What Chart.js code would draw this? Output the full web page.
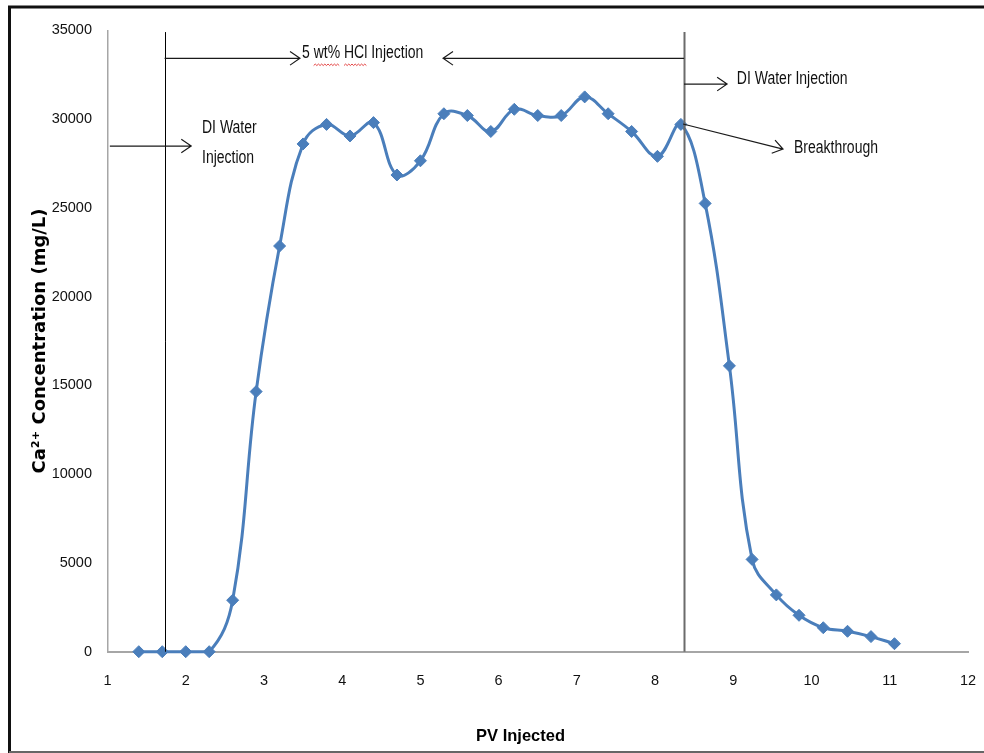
<!DOCTYPE html>
<html>
<head>
<meta charset="utf-8">
<script src="https://cdn.jsdelivr.net/npm/chart.js@4/dist/chart.umd.min.js"></script>
<style>
  html, body { margin: 0; padding: 0; background: #fff; }
  #wrap { width: 984px; height: 753px; }
</style>
</head>
<body>
<div id="wrap"><canvas id="chart" width="984" height="753"></canvas></div>
<script>
// ── Data ───────────────────────────────────────────────────────────────────
const pvInjected = [1.4, 1.7, 2.0, 2.3, 2.6, 2.9, 3.2, 3.5, 3.8, 4.1, 4.4, 4.7, 5.0, 5.3, 5.6, 5.9,
                    6.2, 6.5, 6.8, 7.1, 7.4, 7.7, 8.03, 8.33, 8.64, 8.95, 9.24, 9.55, 9.84, 10.15,
                    10.46, 10.76, 11.06];
const caConc = [0, 0, 0, 0, 2900, 14650, 22850, 28600, 29700, 29050, 29800, 26850, 27650, 30300,
                30200, 29300, 30550, 30200, 30200, 31250, 30300, 29300, 27900, 29700, 25250, 16100,
                5200, 3200, 2050, 1350, 1150, 850, 450];
const xTickValues = [1, 2, 3, 4, 5, 6, 7, 8, 9, 10, 11, 12];
const yTickValues = [0, 5000, 10000, 15000, 20000, 25000, 30000, 35000];

// ── Annotations (in PV / mg/L units) ──────────────────────────────────────
const phaseBoundaries = [1.73, 8.37];
const arrowNotes = [
  { from: [1.73, 33420], to: [3.46, 33420] },
  { from: [8.37, 33420], to: [5.29, 33420] },
  { from: [8.37, 31970], to: [8.92, 31970] },
  { from: [1.03, 28480], to: [2.07, 28480] },
  { from: [8.357, 29720], to: [9.635, 28310] },
];
const textNotes = [
  { text: '5 wt% HCl Injection', x: 3.486, y: 33690, squiggle: ['wt%', 'HCl'] },
  { text: 'DI Water Injection', x: 9.045, y: 32240 },
  { text: 'DI Water', x: 2.208, y: 29480 },
  { text: 'Injection', x: 2.208, y: 27790 },
  { text: 'Breakthrough', x: 9.775, y: 28370 },
];
const xTitle = { text: 'PV Injected', x: 6.28 };

const FONT = "'Liberation Sans', Arial, sans-serif";

// ── Helpers ───────────────────────────────────────────────────────────────
function drawArrow(ctx, x1, y1, x2, y2) {
  const ang = Math.atan2(y2 - y1, x2 - x1), len = 12, spread = 0.6;
  ctx.beginPath();
  ctx.moveTo(x1, y1);
  ctx.lineTo(x2, y2);
  ctx.moveTo(x2 - len * Math.cos(ang - spread), y2 - len * Math.sin(ang - spread));
  ctx.lineTo(x2, y2);
  ctx.lineTo(x2 - len * Math.cos(ang + spread), y2 - len * Math.sin(ang + spread));
  ctx.stroke();
}

function drawSquiggle(ctx, x1, x2, y) {
  ctx.beginPath();
  ctx.moveTo(x1, y);
  let up = true;
  for (let x = x1 + 2; x <= x2; x += 2) {
    ctx.lineTo(x, up ? y - 1.5 : y);
    up = !up;
  }
  ctx.stroke();
}

const notesPlugin = {
  id: 'notes',
  afterDatasetsDraw(chart) {
    const { ctx, scales: { x, y } } = chart;
    ctx.save();

    // phase boundaries
    phaseBoundaries.forEach((pv, i) => {
      const px = Math.round(x.getPixelForValue(pv)) + 0.5;
      ctx.strokeStyle = i === 0 ? '#000' : '#6b6b6b';
      ctx.lineWidth = i === 0 ? 1 : 2;
      ctx.beginPath();
      ctx.moveTo(px, y.getPixelForValue(34900));
      ctx.lineTo(px, y.getPixelForValue(0));
      ctx.stroke();
    });

    // arrows
    ctx.strokeStyle = '#1a1a1a';
    ctx.lineWidth = 1.2;
    arrowNotes.forEach(a => {
      drawArrow(ctx,
        x.getPixelForValue(a.from[0]), y.getPixelForValue(a.from[1]),
        x.getPixelForValue(a.to[0]), y.getPixelForValue(a.to[1]));
    });

    // labels (narrow face: squeeze horizontally)
    ctx.font = '17.5px ' + FONT;
    ctx.fillStyle = '#111';
    ctx.textAlign = 'left';
    ctx.textBaseline = 'middle';
    textNotes.forEach(t => {
      ctx.save();
      ctx.translate(x.getPixelForValue(t.x), y.getPixelForValue(t.y));
      ctx.scale(0.8, 1);
      ctx.fillText(t.text, 0, 0);
      (t.squiggle || []).forEach(word => {
        const idx = t.text.indexOf(word);
        const x1 = ctx.measureText(t.text.slice(0, idx)).width;
        const x2 = x1 + ctx.measureText(word).width;
        ctx.strokeStyle = '#e03030';
        ctx.lineWidth = 1;
        drawSquiggle(ctx, x1, x2, 12);
      });
      ctx.restore();
    });

    // x axis title (sits a little left of centre in the original)
    ctx.font = 'bold 16.5px ' + FONT;
    ctx.fillStyle = '#000';
    ctx.textAlign = 'center';
    ctx.fillText(xTitle.text, x.getPixelForValue(xTitle.x), 736);
    ctx.restore();
  },
  afterDraw(chart) {
    const { ctx } = chart;
    ctx.save();
    ctx.strokeStyle = '#111';
    ctx.lineWidth = 3;
    ctx.beginPath();
    ctx.moveTo(9.5, 753);
    ctx.lineTo(9.5, 7);
    ctx.lineTo(984, 7);
    ctx.stroke();
    ctx.strokeStyle = '#666';
    ctx.lineWidth = 2;
    ctx.beginPath();
    ctx.moveTo(9, 752);
    ctx.lineTo(984, 752);
    ctx.stroke();
    ctx.restore();
  },
};

// ── Chart ─────────────────────────────────────────────────────────────────
new Chart(document.getElementById('chart'), {
  type: 'line',
  data: {
    datasets: [{
      data: pvInjected.map((pv, i) => ({ x: pv, y: caConc[i] })),
      borderColor: '#4a7ebb',
      backgroundColor: '#4a7ebb',
      borderWidth: 3,
      tension: 0.4,
      pointStyle: 'rectRot',
      pointRadius: 6,
      pointBorderWidth: 1,
      clip: false,
    }],
  },
  options: {
    responsive: false,
    animation: false,
    events: [],
    layout: { padding: { top: 30.3, right: 16, left: 0, bottom: 0 } },
    plugins: { legend: { display: false }, tooltip: { enabled: false } },
    scales: {
      x: {
        type: 'linear',
        min: 1,
        max: 12,
        afterBuildTicks: s => { s.ticks = xTickValues.map(v => ({ value: v })); },
        afterFit: s => { s.height = 101.3; s.paddingLeft = 0; s.paddingRight = 0; },
        grid: { display: false, drawTicks: false },
        border: { display: true, color: '#a6a6a6', width: 2 },
        ticks: { padding: 21, color: '#111', font: { family: FONT, size: 14.5 }, callback: v => String(v) },
        title: { display: false },
      },
      y: {
        min: 0,
        max: 35000,
        afterBuildTicks: s => { s.ticks = yTickValues.map(v => ({ value: v })); },
        afterFit: s => { s.width = 107.5; s.paddingTop = 0; s.paddingBottom = 0; },
        grid: { display: false, drawTicks: false },
        border: { display: true, color: '#a6a6a6', width: 1.5 },
        ticks: { padding: 15.5, color: '#111', font: { family: FONT, size: 14.5 }, callback: v => String(v) },
        title: {
          display: true,
          text: 'Ca²⁺ Concentration (mg/L)',
          color: '#000',
          padding: { top: 30 },
          font: { family: "'DejaVu Sans', sans-serif", size: 18, weight: 'bold' },
        },
      },
    },
  },
  plugins: [notesPlugin],
});
</script>
</body>
</html>
